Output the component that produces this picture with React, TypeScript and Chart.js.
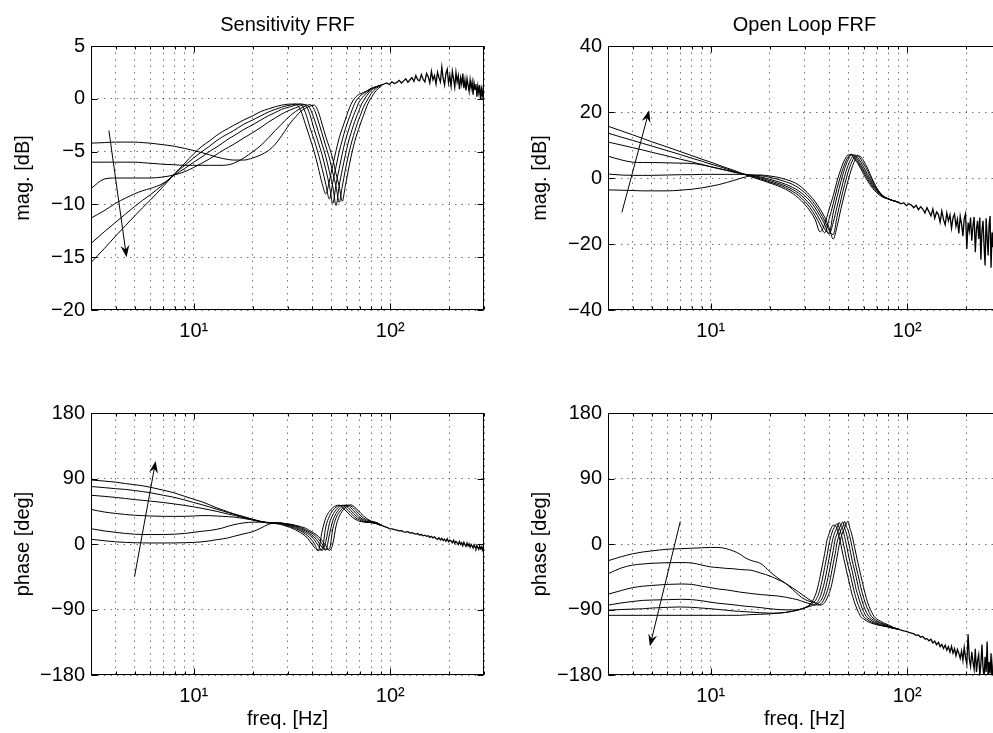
import React, { useEffect, useRef } from 'react';
import { Chart, registerables } from 'chart.js';

Chart.register(...registerables);

const FONT = '"Liberation Sans", Arial, Helvetica, sans-serif';
Chart.defaults.font.family = FONT;
Chart.defaults.color = '#000';

// ---------- shared axis data ----------
const X_TICKS = [3, 4, 5, 6, 7, 8, 9, 10, 20, 30, 40, 50, 60, 70, 80, 90, 100, 200, 300];
const S_MAG_TICKS = [-20, -15, -10, -5, 0, 5];
const OL_MAG_TICKS = [-40, -20, 0, 20, 40];
const PHASE_TICKS = [-180, -90, 0, 90, 180];

// high-frequency (noisy) part, common to all curves of a panel
const TAIL_HZ = [90, 93, 96, 99, 102, 105, 108, 111, 114, 117, 120, 123, 126, 129, 132, 135, 138, 141, 144, 147, 150, 153, 156, 159, 162, 165, 168, 171, 174, 177, 180, 183, 186, 189, 192, 195, 198, 201, 204, 207, 210, 213, 216, 219, 222, 225, 228, 231, 234, 237, 240, 243, 246, 249, 252, 255, 258, 261, 264, 267, 270, 273, 276, 279, 282, 285, 288, 291, 294, 297, 300];

// ---------- Sensitivity FRF ----------
const S_HZ = [3, 3.5, 4, 4.5, 5, 5.5, 6, 7, 8, 9, 10, 11, 12, 13, 14, 15, 16, 18, 20, 22, 24, 26, 28, 29, 31, 33, 35, 37, 39, 41, 43, 45, 47, 49, 51, 53, 55, 57, 59, 61, 63, 65, 67, 69, 71, 73, 76, 80, 85, 90];

const S_MAG_1 = [-15.5, -14.2, -13.0, -12.0, -11.1, -10.3, -9.6, -8.3, -7.1, -6.1, -5.2, -4.5, -4.0, -3.5, -3.1, -2.8, -2.5, -2.0, -1.6, -1.2, -0.95, -0.75, -0.6, -0.55, -0.5, -0.5, -1.1, -2.4, -3.7, -5.0, -6.5, -8.0, -9.0, -7.8, -6.3, -4.9, -3.7, -2.8, -2.0, -1.2, -0.55, -0.1, 0.2, 0.4, 0.5, 0.6, 0.75, 1.0, 1.15, 1.3];
const S_MAG_2 = [-13.7, -12.6, -11.7, -10.9, -10.2, -9.6, -9.1, -8.1, -7.1, -6.3, -5.6, -5.0, -4.5, -4.0, -3.6, -3.3, -3.0, -2.4, -2.0, -1.6, -1.25, -1.0, -0.8, -0.7, -0.6, -0.5, -0.5, -1.3, -2.7, -3.9, -5.2, -6.6, -8.1, -9.5, -7.9, -6.4, -5.0, -3.9, -2.9, -2.1, -1.4, -0.7, -0.2, 0.1, 0.35, 0.5, 0.7, 0.95, 1.15, 1.3];
const S_MAG_3 = [-11.3, -10.6, -9.9, -9.4, -9.0, -8.7, -8.5, -8.0, -7.2, -6.6, -6.0, -5.5, -5.0, -4.6, -4.2, -3.8, -3.5, -2.9, -2.45, -2.0, -1.6, -1.3, -1.0, -0.9, -0.75, -0.6, -0.5, -0.6, -1.5, -2.9, -4.1, -5.3, -6.7, -8.2, -9.9, -8.1, -6.6, -5.2, -4.0, -3.1, -2.3, -1.6, -1.0, -0.4, -0.05, 0.25, 0.55, 0.9, 1.15, 1.3];
const S_MAG_4 = [-8.5, -7.6, -7.5, -7.5, -7.5, -7.5, -7.5, -7.4, -7.2, -6.9, -6.5, -6.1, -5.7, -5.3, -4.9, -4.6, -4.3, -3.7, -3.2, -2.7, -2.2, -1.8, -1.45, -1.3, -1.05, -0.85, -0.65, -0.55, -0.9, -1.9, -3.1, -4.3, -5.5, -6.9, -8.3, -10.1, -8.2, -6.7, -5.4, -4.2, -3.3, -2.5, -1.8, -1.2, -0.6, -0.2, 0.3, 0.8, 1.1, 1.3];
const S_MAG_5 = [-6.0, -6.0, -6.0, -6.0, -6.0, -6.05, -6.1, -6.2, -6.25, -6.3, -6.3, -6.3, -6.3, -6.3, -6.3, -6.25, -6.1, -5.6, -5.0, -4.4, -3.7, -3.0, -2.4, -2.1, -1.6, -1.2, -0.9, -0.7, -0.55, -1.0, -2.1, -3.3, -4.5, -5.6, -7.0, -8.3, -9.8, -8.3, -6.8, -5.5, -4.4, -3.5, -2.7, -2.0, -1.4, -0.8, -0.2, 0.5, 1.0, 1.3];
const S_MAG_6 = [-4.2, -4.15, -4.1, -4.1, -4.1, -4.15, -4.2, -4.35, -4.5, -4.7, -4.9, -5.1, -5.3, -5.5, -5.65, -5.75, -5.8, -5.8, -5.6, -5.3, -4.9, -4.3, -3.5, -3.1, -2.3, -1.7, -1.2, -0.9, -0.7, -0.6, -1.2, -2.4, -3.6, -4.6, -5.7, -7.1, -8.3, -9.7, -8.3, -6.9, -5.6, -4.5, -3.6, -2.9, -2.2, -1.6, -0.7, 0.1, 0.8, 1.2];
const S_MAG_TAIL = [1.3, 1.4, 1.5, 1.35, 1.6, 1.45, 1.55, 1.75, 1.5, 1.7, 1.9, 1.55, 1.8, 2.0, 1.65, 2.2, 1.8, 1.7, 2.3, 1.85, 1.6, 2.4, 2.1, 1.5, 2.6, 1.8, 2.2, 1.4, 2.5, 2.0, 1.6, 3.0, 1.9, 1.3, 2.4, 2.8, 1.5, 2.2, 1.2, 2.6, 1.9, 1.1, 2.5, 1.6, 2.2, 0.9, 2.0, 1.4, 2.4, 1.0, 1.8, 0.8, 1.9, 1.3, 0.7, 1.8, 1.0, 1.6, 0.4, 1.5, 0.9, 1.4, 0.2, 1.2, 0.6, 1.3, -0.1, 0.9, 0.3, 1.0, 0.5];

const S_PH_1 = [88, 86.5, 85, 83, 81.5, 80, 78, 74, 70, 65.5, 61.5, 58, 54, 50, 47, 44, 41.5, 37.5, 34, 31, 29, 28, 26.5, 25.2, 22.7, 19.4, 15.5, 11, 4, -4.4, -9, 17.5, 36, 44.6, 49.9, 52.7, 53.3, 50.5, 46.5, 42.3, 38.6, 35.4, 33.5, 31.6, 30.9, 30.2, 29.5, 29.3, 28, 25.5];
const S_PH_2 = [79, 77.5, 76, 75, 73.5, 72, 70.5, 67, 64, 60.5, 57, 54, 51, 48, 45.5, 43, 41, 37, 33.5, 30.5, 29, 28.5, 27.3, 26.1, 24, 21.1, 17.9, 13.7, 8.4, 1, -8.5, -7, 23.6, 38, 46.2, 50.7, 52.9, 53, 50.3, 46.2, 42.2, 38.6, 35.5, 33.6, 31.8, 31, 30, 29.4, 28, 25.5];
const S_PH_3 = [67, 65.5, 64, 62.5, 61, 60, 59, 57, 55, 53, 51, 49, 47, 45, 43, 41, 39.5, 36, 33, 30.5, 29, 29, 28, 27, 25, 22.7, 19.6, 16, 12, 6, -2, -9, 3.3, 28, 40, 47.1, 51.5, 53.2, 52.7, 50, 45.9, 42.1, 38.6, 35.6, 33.8, 32, 30.7, 29.5, 28, 25.5];
const S_PH_4 = [47.5, 44, 42, 40.5, 39.5, 39, 38.5, 38, 38, 38, 38.5, 39, 39, 38.5, 38, 37.5, 37, 35, 33, 31, 29.5, 29, 28.5, 27.4, 25.9, 24, 21.1, 18.1, 14.3, 9.6, 3, -4.8, -8.5, 12.5, 32, 41.8, 48, 51.8, 53.4, 52.4, 49.7, 45.8, 42, 38.6, 35.6, 33.9, 31.4, 30.2, 28.2, 25.5];
const S_PH_5 = [21, 18, 16, 14.5, 13.5, 13, 13, 13, 13.5, 14.5, 16, 17.5, 18.5, 20, 22, 24.5, 26.5, 29, 30, 30, 29.5, 29, 28.7, 27.8, 26.75, 24.9, 22.7, 19.7, 16.4, 12.6, 7.3, 0.2, -7.4, -7, 20.8, 36, 43.6, 48.75, 52, 53.6, 52.1, 49.4, 45.6, 41.9, 38.6, 35.7, 33.1, 30.9, 29.5, 26];
const S_PH_6 = [6.5, 4.5, 3, 2.2, 1.8, 1.5, 1.4, 1.4, 1.5, 1.8, 2.2, 3, 4.2, 5.8, 7, 8.5, 10.5, 14, 17, 22, 27, 29, 29, 28.2, 27.3, 25.7, 23.9, 21.7, 18.3, 14.8, 10.65, 4.8, -2.4, -9, 0, 24.8, 37.8, 45.2, 49.6, 52.3, 53.9, 51.9, 49.1, 45.4, 41.9, 38.7, 34.9, 31.5, 29.5, 26];
const S_PH_TAIL = [25.5, 24.2, 23.0, 21.2, 20.8, 19.6, 19.2, 18.0, 18.2, 16.8, 16.4, 16.9, 15.0, 15.6, 14.2, 13.6, 14.4, 12.4, 13.0, 11.2, 12.2, 10.6, 11.4, 9.2, 10.6, 8.4, 9.8, 7.6, 6.4, 8.6, 5.6, 7.8, 4.8, 6.6, 3.8, 7.2, 3.0, 5.2, 4.0, 1.8, 5.2, 0.8, 3.6, 1.6, -0.8, 3.4, -0.4, 1.8, -2.4, 2.2, -1.0, -3.2, 1.4, -2.6, 0.2, -4.2, -0.6, -2.8, -5.4, -1.2, -4.0, -6.2, -2.0, -5.0, -7.4, -2.6, -6.4, -4.2, -8.4, -3.8, -6.8];

// ---------- Open Loop FRF ----------
const OL_HZ = [3, 3.5, 4, 4.5, 5, 6, 7, 8, 9, 10, 11, 12, 13, 14, 15, 16, 18, 20, 22, 24, 26, 28, 30, 32, 34, 36, 38, 40, 42, 44, 46, 48, 50, 52, 54, 56, 58, 60, 63, 66, 70, 75, 80, 85, 90];

const OL_MAG_1 = [15.7, 14.3, 13.1, 12.0, 11.0, 9.4, 8.0, 6.8, 5.7, 4.8, 3.9, 3.1, 2.4, 1.7, 1.0, 0.4, -0.6, -1.5, -2.4, -3.4, -4.6, -6.1, -7.9, -10.0, -12.6, -16.3, -14.0, -9.5, -5.4, -0.8, 2.8, 5.5, 7.0, 7.0, 5.7, 4.4, 2.8, 1.1, -1.0, -2.8, -4.5, -5.8, -6.4, -6.9, -7.3];
const OL_MAG_2 = [13.6, 12.4, 11.4, 10.5, 9.7, 8.3, 7.1, 6.0, 5.1, 4.2, 3.5, 2.8, 2.1, 1.5, 1.0, 0.6, -0.3, -1.2, -2.0, -2.9, -4.0, -5.3, -7.0, -9.0, -11.4, -14.2, -16.6, -12.5, -7.8, -3.0, 1.0, 4.2, 6.4, 7.2, 6.3, 4.9, 3.4, 1.8, -0.4, -2.3, -4.1, -5.6, -6.3, -6.9, -7.3];
const OL_MAG_3 = [10.9, 10.0, 9.2, 8.5, 7.8, 6.7, 5.7, 4.9, 4.1, 3.4, 2.8, 2.3, 1.8, 1.4, 1.0, 0.7, 0.0, -0.8, -1.6, -2.4, -3.4, -4.6, -6.2, -8.0, -10.2, -12.8, -15.5, -16.8, -10.5, -5.5, -1.0, 2.8, 5.5, 7.0, 6.8, 5.5, 4.0, 2.5, 0.3, -1.8, -3.8, -5.5, -6.3, -6.9, -7.3];
const OL_MAG_4 = [6.6, 5.5, 4.8, 4.7, 4.7, 4.6, 4.5, 4.4, 4.0, 3.4, 2.9, 2.4, 1.9, 1.5, 1.1, 0.8, 0.3, -0.4, -1.1, -1.9, -2.8, -3.9, -5.3, -7.0, -9.1, -11.5, -14.0, -17.0, -13.5, -8.5, -3.8, 0.5, 3.8, 6.0, 7.0, 6.2, 4.8, 3.3, 1.0, -1.2, -3.5, -5.4, -6.3, -6.9, -7.3];
const OL_MAG_5 = [1.2, 0.9, 0.8, 0.8, 0.8, 0.9, 1.0, 1.0, 1.1, 1.1, 1.1, 1.1, 1.1, 1.1, 1.1, 1.0, 0.7, 0.2, -0.4, -1.1, -1.9, -3.0, -4.4, -6.1, -8.1, -10.4, -13.0, -15.8, -17.2, -11.5, -6.5, -2.0, 1.8, 4.6, 6.4, 6.9, 5.7, 4.3, 2.0, -0.5, -3.3, -5.4, -6.3, -6.9, -7.3];
const OL_MAG_6 = [-3.6, -3.7, -3.8, -3.9, -3.9, -3.9, -3.7, -3.4, -3.0, -2.5, -2.0, -1.4, -0.8, -0.2, 0.3, 0.7, 0.9, 0.6, 0.2, -0.4, -1.1, -2.1, -3.6, -5.3, -7.2, -9.4, -11.9, -15.0, -18.5, -14.5, -9.3, -4.8, -0.8, 2.7, 5.2, 6.7, 6.4, 5.2, 2.8, 0.0, -3.0, -5.3, -6.3, -6.9, -7.3];
const OL_MAG_TAIL = [-7.3, -7.8, -7.5, -8.4, -7.8, -8.2, -9.0, -8.3, -9.6, -8.7, -9.4, -10.6, -9.0, -10.2, -11.5, -9.4, -12.2, -10.3, -11.0, -13.4, -10.0, -12.6, -14.2, -10.6, -13.0, -11.2, -15.2, -12.0, -10.9, -14.6, -12.5, -16.8, -11.6, -14.0, -17.6, -12.2, -10.8, -21.5, -13.5, -16.0, -12.0, -19.0, -14.5, -11.8, -22.5, -15.5, -13.0, -18.5, -12.0, -24.8, -16.0, -13.0, -20.5, -26.5, -12.2, -18.0, -23.5, -14.0, -11.5, -27.2, -16.5, -21.0, -13.0, -24.5, -15.5, -20.0, -12.5, -22.5, -16.0, -19.0, -14.0];

const OLP_HZ = [3, 3.5, 4, 4.5, 5, 6, 7, 8, 9, 10, 11, 12, 13, 14, 15, 16, 18, 20, 22, 24, 26, 28, 30, 32, 34, 35, 36, 37, 38, 39, 40, 41, 42, 43, 44, 45, 46, 47, 48, 49, 50, 51, 52, 53, 54, 55, 56, 57, 58, 60, 62, 64, 66, 68, 70, 73, 76, 80, 85, 90];

const OL_PH_1 = [-23, -17.5, -13.5, -11, -9.5, -7.2, -6.5, -5.8, -5.2, -4.7, -4.8, -6.5, -9.5, -13.5, -19, -22.5, -27, -38, -47, -54, -62, -70, -76, -79, -81, -82, -84, -83, -80.5, -75, -68, -59, -46, -32, -17, -2, 9, 16.5, 22, 28, 31.5, 22, 15, 5.5, -5, -15, -25, -34, -43, -60, -75, -86, -94, -100, -103, -106, -108.5, -111, -114.5, -117];
const OL_PH_2 = [-41, -33, -29, -27.5, -26.5, -25.7, -25.5, -26, -29, -31.5, -32.5, -33.5, -34, -35, -35.5, -36, -40, -44, -49, -54, -60, -66, -72, -77, -81, -84, -83, -80, -74, -66, -56, -42, -27, -13, 3, 12, 19.5, 24, 31, 24, 19, 10, 0, -10.5, -22, -32, -41, -50, -59, -74, -85.5, -94, -100, -103, -105.5, -108, -110, -112.5, -115, -117];
const OL_PH_3 = [-69, -64, -60, -58, -57, -55.5, -55, -55.5, -58, -60, -62, -63, -64.5, -66, -67, -68, -69.5, -70.5, -71.5, -73, -75, -77, -80, -82, -84, -82.5, -79, -74, -65, -53, -39, -24, -9, 7, 14, 21, 26, 30.5, 22, 15, 4.5, -6, -18, -28, -37, -46, -56, -65, -72, -85, -94, -100, -103, -105.5, -107, -109, -111, -113, -115.5, -117];
const OL_PH_4 = [-84, -81, -79, -77.5, -77, -76.5, -76, -76.5, -78, -80, -81.5, -82.5, -83.5, -84.5, -85.5, -86, -87.5, -89, -90, -90.5, -90.5, -90, -88, -85.5, -83, -79, -73, -63, -51, -36, -20, -4, 9, 17, 23, 29.5, 25, 20, 10, -1, -12.5, -24, -33, -43, -53, -63, -70, -77, -83, -93, -100, -103, -105.5, -107.5, -109, -110.5, -112, -113.5, -115.5, -117];
const OL_PH_5 = [-91, -90, -89.5, -89, -88, -87, -86.5, -87, -88, -89, -90, -91, -92, -92.5, -93, -93.5, -94.5, -95, -95, -94, -92.5, -90.5, -88, -84, -78, -72, -62, -48, -32, -17, 0, 12, 20, 25, 28, 23, 15, 4.5, -7.5, -19.5, -30, -39, -49, -59, -68, -75.5, -82, -87, -92.5, -100, -103, -105.5, -107.5, -109, -110, -111.5, -112.5, -114, -116, -117];
const OL_PH_6 = [-98, -98, -98, -98, -98, -98, -98, -98, -98, -98, -98, -98, -98, -98, -97.5, -97, -96.5, -96, -95, -94, -92.5, -90.5, -87.5, -83, -71, -60, -45, -29, -13, 4.5, 14, 21.5, 26, 25, 20.5, 10, -1.5, -14, -25, -36, -46, -56, -66, -74, -81, -86.5, -92, -96, -100, -103, -105.5, -107.5, -109, -110, -111, -112, -113, -114, -116, -117];
const OL_PH_TAIL = [-117, -118.5, -119.5, -120, -121.5, -122.5, -123.5, -125.5, -125, -128, -127, -130.5, -130, -133, -131, -136, -133.5, -138.5, -135, -141, -138, -143.5, -139, -146, -141, -148.5, -140.5, -150, -144, -153.5, -145, -150, -157, -147, -160, -142, -156, -165, -124, -158, -168, -148, -162, -172, -144, -176, -160, -152, -181, -165, -138, -170, -184, -155, -176, -134, -186, -162, -178, -150, -188, -168, -145, -183, -171, -190, -152, -180, -166, -187, -158];

// arrows [fromHz, fromVal, toHz, toVal]
const ARROW_S_MAG = [3.7, -3, 4.55, -15];
const ARROW_OL_MAG = [3.53, -10.4, 4.86, 20.5];
const ARROW_S_PH = [5.0, -44.5, 6.4, 114];
const ARROW_OL_PH = [7.0, 31, 4.9, -140.6];

type PanelDef = {
  left: number; top: number; width: number; height: number;
  title?: string; xTitle?: string; yTitle: string;
  yMin: number; yMax: number; yTicks: number[];
  hz: number[]; curves: number[][]; tail: number[]; arrow: number[];
};

const PANELS: PanelDef[] = [
  { left: 0, top: 0, width: 500, height: 360, title: 'Sensitivity FRF', yTitle: 'mag. [dB]', yMin: -20, yMax: 5, yTicks: S_MAG_TICKS, hz: S_HZ, curves: [S_MAG_1, S_MAG_2, S_MAG_3, S_MAG_4, S_MAG_5, S_MAG_6], tail: S_MAG_TAIL, arrow: ARROW_S_MAG },
  { left: 517, top: 0, width: 500, height: 360, title: 'Open Loop FRF', yTitle: 'mag. [dB]', yMin: -40, yMax: 40, yTicks: OL_MAG_TICKS, hz: OL_HZ, curves: [OL_MAG_1, OL_MAG_2, OL_MAG_3, OL_MAG_4, OL_MAG_5, OL_MAG_6], tail: OL_MAG_TAIL, arrow: ARROW_OL_MAG },
  { left: 0, top: 367, width: 500, height: 366, xTitle: 'freq. [Hz]', yTitle: 'phase [deg]', yMin: -180, yMax: 180, yTicks: PHASE_TICKS, hz: S_HZ, curves: [S_PH_1, S_PH_2, S_PH_3, S_PH_4, S_PH_5, S_PH_6], tail: S_PH_TAIL, arrow: ARROW_S_PH },
  { left: 517, top: 367, width: 500, height: 366, xTitle: 'freq. [Hz]', yTitle: 'phase [deg]', yMin: -180, yMax: 180, yTicks: PHASE_TICKS, hz: OLP_HZ, curves: [OL_PH_1, OL_PH_2, OL_PH_3, OL_PH_4, OL_PH_5, OL_PH_6], tail: OL_PH_TAIL, arrow: ARROW_OL_PH },
];

const GRID_COLOR = 'rgba(0,0,0,0.55)';
const TEXT_SIZE = 20;

const framePlugin = {
  id: 'frame',
  afterDatasetsDraw(chart: any, _args: any, opts: any) {
    const { ctx, chartArea: a, scales } = chart;
    const L = Math.round(a.left) + 0.5;
    const R = Math.round(a.right) - 0.5;
    const T = Math.round(a.top) + 0.5;
    const B = Math.round(a.bottom) - 0.5;
    ctx.save();
    ctx.strokeStyle = '#000';
    ctx.fillStyle = '#000';
    ctx.lineWidth = 1;
    ctx.setLineDash([]);
    ctx.strokeRect(L, T, R - L, B - T);
    ctx.beginPath();
    for (const t of scales.x.ticks) {
      const x = Math.round(scales.x.getPixelForValue(t.value)) + 0.5;
      const len = t.value === 10 || t.value === 100 ? 6 : 3;
      ctx.moveTo(x, B); ctx.lineTo(x, B - len);
      ctx.moveTo(x, T); ctx.lineTo(x, T + len);
    }
    for (const t of scales.y.ticks) {
      const y = Math.round(scales.y.getPixelForValue(t.value)) + 0.5;
      ctx.moveTo(L, y); ctx.lineTo(L + 6, y);
      ctx.moveTo(R, y); ctx.lineTo(R - 6, y);
    }
    ctx.stroke();
    const ar = opts.arrow as number[];
    if (ar) {
      const x0 = scales.x.getPixelForValue(ar[0]);
      const y0 = scales.y.getPixelForValue(ar[1]);
      const x1 = scales.x.getPixelForValue(ar[2]);
      const y1 = scales.y.getPixelForValue(ar[3]);
      const dx = x1 - x0, dy = y1 - y0;
      const len = Math.hypot(dx, dy);
      const ux = dx / len, uy = dy / len;
      const px = -uy, py = ux;
      const hl = 12, hw = 4.5;
      ctx.beginPath();
      ctx.moveTo(x0, y0);
      ctx.lineTo(x1 - ux * hl * 0.6, y1 - uy * hl * 0.6);
      ctx.stroke();
      ctx.beginPath();
      ctx.moveTo(x1, y1);
      ctx.lineTo(x1 - ux * hl + px * hw, y1 - uy * hl + py * hw);
      ctx.lineTo(x1 - ux * hl * 0.65, y1 - uy * hl * 0.65);
      ctx.lineTo(x1 - ux * hl - px * hw, y1 - uy * hl - py * hw);
      ctx.closePath();
      ctx.fill();
    }
    ctx.restore();
  },
};

function makeConfig(p: PanelDef): any {
  const datasets: any[] = p.curves.map((c) => ({
    data: p.hz.map((f, i) => ({ x: f, y: c[i] })),
    borderColor: '#000',
    borderWidth: 1,
    pointRadius: 0,
    fill: false,
    cubicInterpolationMode: 'monotone',
  }));
  datasets.push({
    data: TAIL_HZ.map((f, i) => ({ x: f, y: p.tail[i] })),
    borderColor: '#000',
    borderWidth: 1.3,
    pointRadius: 0,
    fill: false,
    tension: 0,
  });
  const xAxisH = p.height - (p.title ? 310 : 308);
  return {
    type: 'line',
    data: { datasets },
    options: {
      animation: false,
      responsive: false,
      devicePixelRatio: 1,
      events: [],
      layout: { padding: { left: 0, right: 16, top: p.title ? 0 : 46, bottom: 0 } },
      plugins: {
        legend: { display: false },
        tooltip: { enabled: false },
        title: p.title
          ? { display: true, fullSize: false, text: p.title, color: '#000', font: { family: FONT, size: TEXT_SIZE, weight: 'normal' }, padding: { top: 13, bottom: 9 } }
          : { display: false },
        frame: { arrow: p.arrow },
      },
      scales: {
        x: {
          type: 'logarithmic',
          min: 3,
          max: 300,
          afterBuildTicks: (s: any) => { s.ticks = X_TICKS.map((v) => ({ value: v })); },
          afterFit: (s: any) => { s.height = xAxisH; },
          ticks: {
            autoSkip: false,
            maxRotation: 0,
            padding: 9,
            color: '#000',
            font: { family: FONT, size: TEXT_SIZE },
            callback: (v: any) => (v === 10 ? '10\u00B9' : v === 100 ? '10\u00B2' : ''),
          },
          grid: { color: GRID_COLOR, lineWidth: 1, drawTicks: false },
          border: { display: false, dash: [1.5, 5] },
          title: p.xTitle
            ? { display: true, text: p.xTitle, color: '#000', font: { family: FONT, size: TEXT_SIZE }, padding: { top: 0, bottom: 2 } }
            : { display: false },
        },
        y: {
          type: 'linear',
          min: p.yMin,
          max: p.yMax,
          afterBuildTicks: (s: any) => { s.ticks = p.yTicks.map((v) => ({ value: v })); },
          afterFit: (s: any) => { s.width = 91; },
          ticks: {
            padding: 6,
            color: '#000',
            font: { family: FONT, size: TEXT_SIZE },
            callback: (v: any) => String(v).replace('-', '\u2212'),
          },
          grid: { color: GRID_COLOR, lineWidth: 1, drawTicks: false },
          border: { display: false, dash: [1.5, 5] },
          title: { display: true, text: p.yTitle, color: '#000', font: { family: FONT, size: TEXT_SIZE }, padding: { top: 11, bottom: 0 } },
        },
      },
    },
    plugins: [framePlugin],
  };
}

function Panel({ def }: { def: PanelDef }) {
  const ref = useRef<HTMLCanvasElement>(null);
  useEffect(() => {
    const chart = new Chart(ref.current as HTMLCanvasElement, makeConfig(def));
    return () => chart.destroy();
  }, [def]);
  return (
    <canvas
      ref={ref}
      width={def.width}
      height={def.height}
      style={{ position: 'absolute', left: def.left, top: def.top, width: def.width, height: def.height }}
    />
  );
}

export default function App() {
  return (
    <div style={{ position: 'fixed', left: 0, top: 0, width: 993, height: 733, overflow: 'hidden', background: '#fff' }}>
      {PANELS.map((p, i) => (
        <Panel key={i} def={p} />
      ))}
    </div>
  );
}
